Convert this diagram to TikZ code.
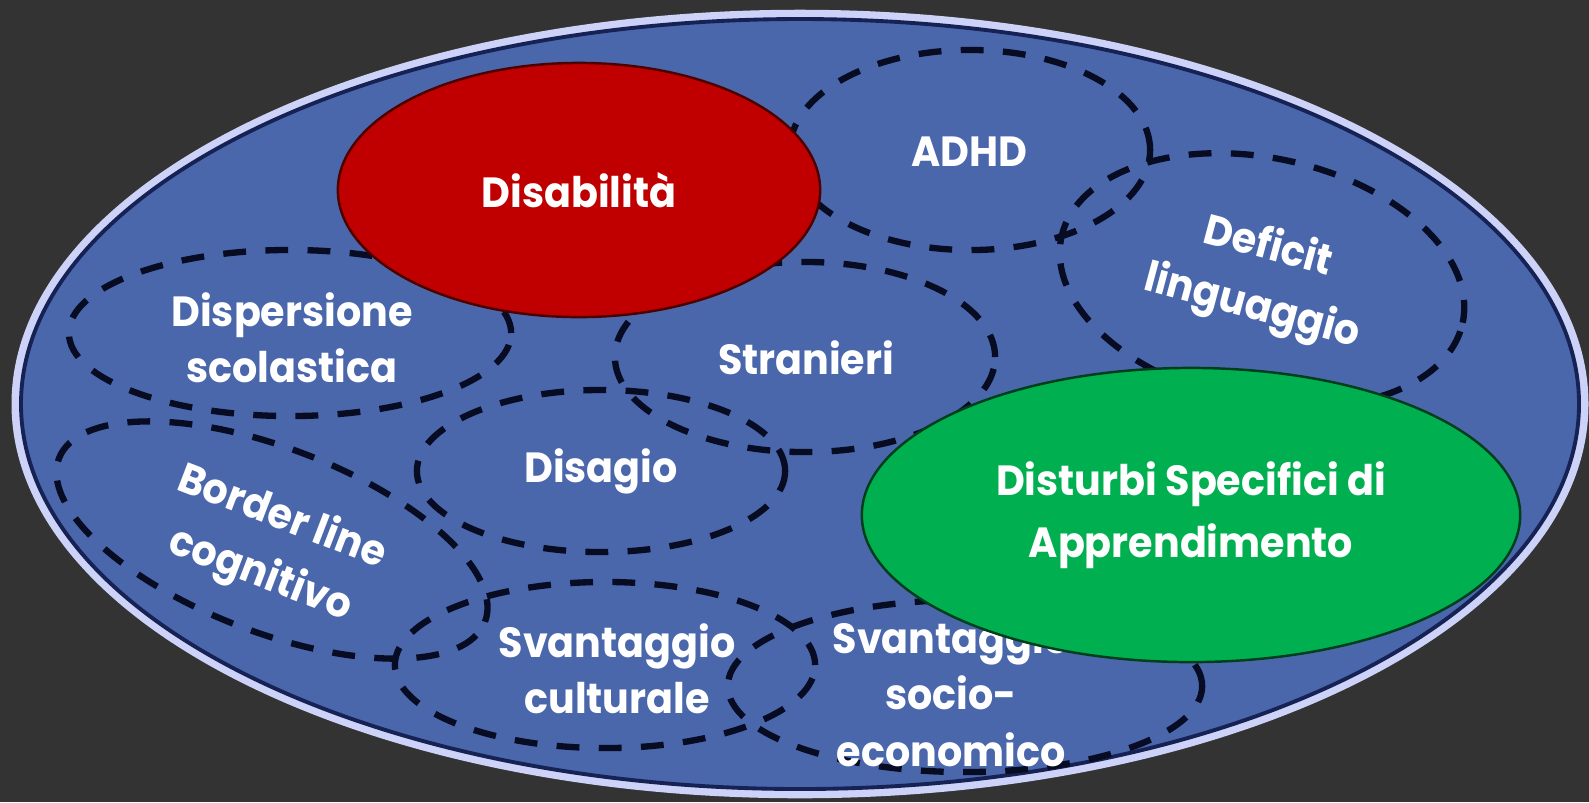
\documentclass[tikz,border=0pt]{standalone}
\usepackage{fontspec}
\setmainfont{Poppins}[FakeStretch=0.94]
\usetikzlibrary{shapes.geometric}

\definecolor{sfondo}{RGB}{51,51,51}
\definecolor{blu}{RGB}{74,103,172}
\definecolor{bordo}{RGB}{205,210,248}
\definecolor{notte}{RGB}{22,34,84}
\definecolor{tratto}{RGB}{8,12,35}
\definecolor{rosso}{RGB}{192,0,0}
\definecolor{verde}{RGB}{0,176,80}

\begin{document}
\begin{tikzpicture}[x=0.01cm, y=-0.01cm]
	\tikzstyle{area} = [ellipse, inner sep=0pt]
	\tikzstyle{bisogno} = [area, draw=tratto, line width=1.8pt, dash pattern=on 6.5pt off 5.5pt]
	\tikzstyle{etichetta} = [align=center, text=white, inner sep=0pt, font=\bfseries\fontsize{12}{16}\selectfont]
	\tikzstyle{pieno} = [area, etichetta, line width=0.7pt]

%----------sfondo e contorno------------------------------
	\useasboundingbox (0,0) rectangle (1589,802);
	\fill[sfondo] (0,0) rectangle (1589,802);
	\node[area, fill=blu, draw=bordo, line width=2.3pt, minimum width=15.68cm, minimum height=7.80cm] (bes) at (800,404) {};
	\draw[notte, line width=1.1pt] (bes.center) ellipse [x radius=779, y radius=385];

%----------aree tratteggiate------------------------------
	\node[bisogno, minimum width=4.42cm, minimum height=1.66cm] (dispers) at (290,333) {};
	\node[bisogno, minimum width=3.80cm, minimum height=1.90cm] (stranieri) at (805,357) {};
	\node[bisogno, minimum width=3.68cm, minimum height=1.62cm] (disagio) at (601,471) {};
	\node[bisogno, minimum width=3.60cm, minimum height=2.00cm] (adhd) at (970,150) {};
	\node[bisogno, minimum width=4.10cm, minimum height=2.44cm, rotate=-12] (deficit) at (1262,280) {};
	\node[bisogno, minimum width=4.56cm, minimum height=1.84cm, rotate=-21] (border) at (272,540) {};
	\node[bisogno, minimum width=4.20cm, minimum height=1.66cm] (cultur) at (605,665) {};
	\node[bisogno, minimum width=4.74cm, minimum height=1.72cm] (socio) at (965,686) {};

%----------testi------------------------------------------
	\node[etichetta] (dispers-t) at (292,338) {Dispersione\\scolastica};
	\node[etichetta] (stranieri-t) at (806,358) {Stranieri};
	\node[etichetta] (disagio-t) at (601,471) {Disagio};
	\node[etichetta] (adhd-t) at (969,152) {ADHD};
	\node[etichetta, rotate=-15, font=\bfseries\fontsize{12}{17.5}\selectfont] (deficit-t) at (1260,278) {Deficit\\linguaggio};
	\node[etichetta, rotate=-21, font=\bfseries\fontsize{12}{17.5}\selectfont] (border-t) at (271,547) {Border line\\cognitivo};
	\node[etichetta] (cultur-t) at (617,669) {Svantaggio\\culturale};
	\node[etichetta] (socio-t) at (951,693) {Svantaggio\\socio-\\economico};

%----------aree piene-------------------------------------
	\node[pieno, fill=rosso, draw=rosso!40!black, minimum width=4.82cm, minimum height=2.54cm] (disab) at (579,190) {Disabilità};
	\node[pieno, fill=verde, draw=verde!35!black, minimum width=6.58cm, minimum height=2.94cm, font=\bfseries\fontsize{12}{17.5}\selectfont] (dsa) at (1191,515) {Disturbi Specifici di\\Apprendimento};

\end{tikzpicture}
\end{document}
